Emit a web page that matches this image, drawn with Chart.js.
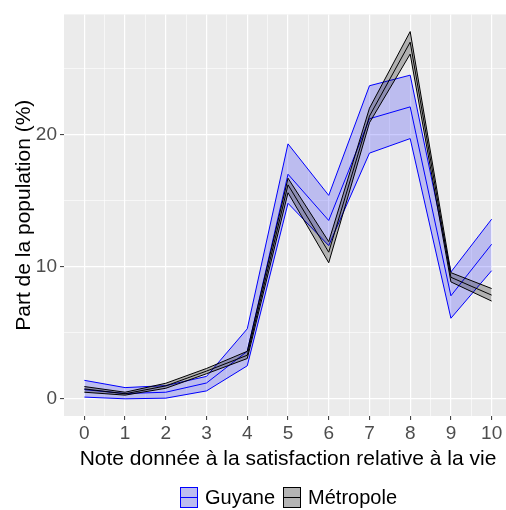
<!DOCTYPE html>
<html>
<head>
<meta charset="utf-8">
<script src="https://cdn.jsdelivr.net/npm/chart.js@4.4.0/dist/chart.umd.min.js"></script>
<style>
  body { margin: 0; width: 506px; height: 510px; overflow: hidden; background: #fff; position: relative;
         font-family: "Liberation Sans", Arial, sans-serif; }
  #wrap { position: absolute; left: 0; top: 0; width: 514px; height: 510px; }
  #legend { position: absolute; top: 486px; left: 180px; display: flex; align-items: center; font-size: 20px; color: #000; }
  .key { width: 18px; height: 21px; box-sizing: border-box; border: 1px solid; position: relative; margin-right: 7px; }
  .key::after { content: ''; position: absolute; left: 0; right: 0; top: 9px; border-top: 1px solid; }
  .item { display: flex; align-items: center; margin-right: 8px; }
</style>
</head>
<body>
<div id="wrap"><canvas id="chart" width="514" height="510"></canvas></div>
<div id="legend">
  <div class="item"><div class="key" style="border-color:#0000ff;background:#bcbcef;color:#0000ff"></div><span>Guyane</span></div>
  <div class="item"><div class="key" style="border-color:#000;background:#b4b4b4;color:#000"></div><span>Métropole</span></div>
</div>
<script>
// Note (0-10) and share of population (%), with confidence bounds
const notes = [0, 1, 2, 3, 4, 5, 6, 7, 8, 9, 10];

const guyane     = [0.7, 0.4, 0.5, 1.2, 3.6, 17.0, 13.5, 21.2, 22.1, 7.8, 11.7];
const guyaneLow  = [0.13, 0.0, 0.05, 0.6, 2.5, 14.8, 11.6, 18.6, 19.7, 6.1, 9.7];
const guyaneHigh = [1.4, 0.85, 1.0, 1.7, 5.3, 19.3, 15.4, 23.7, 24.5, 9.6, 13.6];

const metro     = [0.75, 0.38, 0.98, 2.1, 3.3, 16.2, 11.1, 21.4, 27.0, 9.2, 7.85];
const metroLow  = [0.5, 0.28, 0.8, 1.9, 3.05, 15.6, 10.3, 20.9, 26.1, 8.85, 7.4];
const metroHigh = [0.93, 0.5, 1.18, 2.3, 3.6, 16.7, 11.9, 22.0, 27.8, 9.55, 8.35];

const yTicks = [0, 5, 10, 15, 20, 25];
const yLabels = [0, 10, 20];

const pts = (arr) => arr.map((v, i) => ({ x: notes[i], y: v }));

const line = (data, color, order, fill, bg) => ({
  data: pts(data),
  borderColor: color,
  borderWidth: 1,
  pointRadius: 0,
  tension: 0,
  fill: fill || false,
  backgroundColor: bg || 'transparent',
  order: order,
});

const panelBg = {
  id: 'panelBg',
  beforeDraw(chart) {
    const { ctx, chartArea: a } = chart;
    ctx.save();
    ctx.fillStyle = '#ebebeb';
    ctx.fillRect(a.left, a.top, a.right - a.left, a.bottom - a.top);
    ctx.restore();
  },
};

const font = '"Liberation Sans", Arial, sans-serif';

new Chart(document.getElementById('chart'), {
  type: 'line',
  data: {
    datasets: [
      line(guyaneLow, '#0000ff', 6),
      line(guyaneHigh, '#0000ff', 5, '-1', 'rgba(0,0,255,0.2)'),
      line(guyane, '#0000ff', 4),
      line(metroLow, '#000000', 3),
      line(metroHigh, '#000000', 2, '-1', 'rgba(0,0,0,0.25)'),
      line(metro, '#000000', 1),
    ],
  },
  options: {
    responsive: false,
    animation: false,
    layout: { padding: { top: 12, right: 2, bottom: 38, left: 12 } },
    plugins: { legend: { display: false }, tooltip: { enabled: false } },
    scales: {
      x: {
        type: 'linear',
        min: -0.5,
        max: 10.5,
        afterBuildTicks: (s) => {
          const t = [];
          for (let v = 0; v <= 10; v += 0.5) t.push({ value: v });
          s.ticks = t;
        },
        afterFit: (s) => { s.height = 56; },
        border: { display: false },
        grid: {
          color: '#ffffff',
          lineWidth: (c) => (c.tick && Number.isInteger(c.tick.value) ? 1.2 : 0.6),
          tickColor: (c) => (c.tick && Number.isInteger(c.tick.value) ? '#333333' : 'rgba(0,0,0,0)'),
          tickLength: 4,
          tickWidth: 1,
        },
        ticks: {
          autoSkip: false,
          maxRotation: 0,
          padding: 2,
          color: '#4d4d4d',
          font: { family: font, size: 19 },
          callback: (v) => (Number.isInteger(v) ? String(v) : ''),
        },
        title: {
          display: true,
          text: 'Note donnée à la satisfaction relative à la vie',
          color: '#000',
          font: { family: font, size: 21 },
          padding: 0,
        },
      },
      y: {
        min: -1.3,
        max: 29.1,
        afterBuildTicks: (s) => { s.ticks = yTicks.map((v) => ({ value: v })); },
        afterFit: (s) => { s.width = 52; },
        border: { display: false },
        grid: {
          color: '#ffffff',
          lineWidth: (c) => (c.tick && yLabels.includes(c.tick.value) ? 1.2 : 0.6),
          tickColor: (c) => (c.tick && yLabels.includes(c.tick.value) ? '#333333' : 'rgba(0,0,0,0)'),
          tickLength: 4,
          tickWidth: 1,
        },
        ticks: {
          padding: 3,
          color: '#4d4d4d',
          font: { family: font, size: 19 },
          callback: (v) => (yLabels.includes(v) ? String(v) : ''),
        },
        title: {
          display: true,
          text: 'Part de la population (%)',
          color: '#000',
          font: { family: font, size: 21 },
          padding: 0,
        },
      },
    },
  },
  plugins: [panelBg],
});
</script>
</body>
</html>
